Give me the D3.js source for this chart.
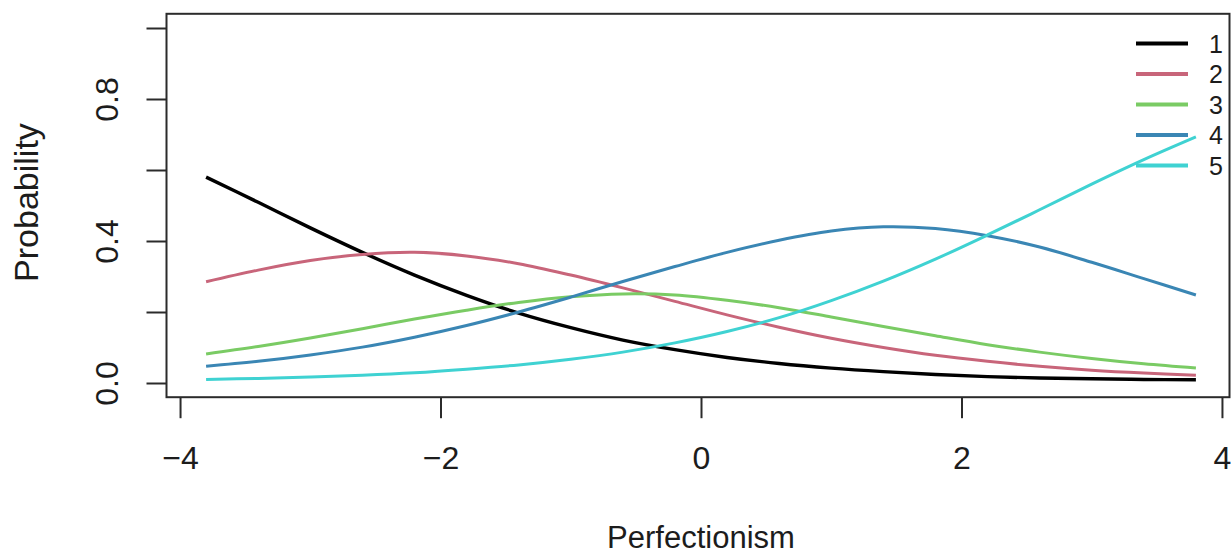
<!DOCTYPE html>
<html>
<head>
<meta charset="utf-8">
<script src="https://cdn.jsdelivr.net/npm/d3@7"></script>
<style>
  html, body { margin: 0; padding: 0; background: #fff; }
  svg { display: block; }
  text { font-family: "Liberation Sans", Arial, Helvetica, sans-serif; fill: #1c1c1c; }
</style>
</head>
<body>
<svg id="chart" width="1232" height="556"></svg>
<script>
// Category response curves over the latent trait
const theta = [-3.8, -3.4, -3.0, -2.6, -2.2, -1.8, -1.4, -1.0, -0.6, -0.2,
               0.2, 0.6, 1.0, 1.4, 1.8, 2.2, 2.6, 3.0, 3.4, 3.8];
const cat1 = [0.580, 0.509, 0.437, 0.368, 0.304, 0.247, 0.197, 0.156, 0.121, 0.094,
              0.072, 0.055, 0.042, 0.032, 0.024, 0.018, 0.014, 0.012, 0.010, 0.009];
const cat2 = [0.285, 0.318, 0.345, 0.362, 0.368, 0.358, 0.336, 0.304, 0.268, 0.230,
              0.192, 0.157, 0.126, 0.100, 0.078, 0.061, 0.047, 0.036, 0.028, 0.022];
const cat3 = [0.082, 0.103, 0.127, 0.153, 0.180, 0.205, 0.227, 0.243, 0.251, 0.248,
              0.233, 0.212, 0.186, 0.159, 0.133, 0.108, 0.087, 0.069, 0.054, 0.042];
const cat4 = [0.047, 0.061, 0.079, 0.101, 0.129, 0.162, 0.200, 0.242, 0.286, 0.328,
              0.368, 0.402, 0.428, 0.440, 0.435, 0.415, 0.383, 0.340, 0.294, 0.248];
const cat5 = [0.010, 0.013, 0.017, 0.022, 0.029, 0.039, 0.051, 0.067, 0.087, 0.113,
              0.145, 0.184, 0.232, 0.287, 0.349, 0.417, 0.488, 0.560, 0.629, 0.693];

const categories = ["1", "2", "3", "4", "5"];
const seriesValues = [cat1, cat2, cat3, cat4, cat5];
const colors = ["#000000", "#c8657a", "#7acb64", "#3a86b4", "#3fd2d2"];

const xTicks = [-4, -2, 0, 2, 4];
const xTickLabels = ["\u22124", "\u22122", "0", "2", "4"];
const yTicks = [0, 0.2, 0.4, 0.6, 0.8, 1.0];
const yTickLabels = ["0.0", "", "0.4", "", "0.8", ""];

const xTitle = "Perfectionism";
const yTitle = "Probability";

const svg = d3.select("#chart");

// scales: data range padded by 4% on each side
const x = d3.scaleLinear().domain([-4.104, 4.104]).range([166.5, 1235.5]);
const y = d3.scaleLinear().domain([-0.04, 1.04]).range([397.2, 13.8]);

const frameRight = 1229.5;

// plot frame
svg.append("rect")
  .attr("x", x.range()[0]).attr("y", y.range()[1])
  .attr("width", frameRight - x.range()[0])
  .attr("height", y.range()[0] - y.range()[1])
  .attr("fill", "none").attr("stroke", "#2b2b2b").attr("stroke-width", 2);

// x axis (offset below the frame)
const xAxis = svg.append("g")
  .attr("transform", `translate(0,${y.range()[0]})`)
  .call(d3.axisBottom(x).tickValues(xTicks).tickSize(21).tickFormat((d, i) => xTickLabels[i]));
xAxis.select(".domain").remove();
xAxis.selectAll(".tick line").attr("stroke", "#2b2b2b").attr("stroke-width", 2);
xAxis.selectAll(".tick text")
  .attr("y", 0).attr("dy", 0)
  .attr("transform", "translate(0,72)")
  .style("font-size", "32px").attr("fill", "#1c1c1c")
  .style("font-family", "'Liberation Sans', Arial, sans-serif");

// y axis
const yAxis = svg.append("g")
  .attr("transform", `translate(${x.range()[0]},0)`)
  .call(d3.axisLeft(y).tickValues(yTicks).tickSize(20).tickFormat((d, i) => yTickLabels[i]));
yAxis.select(".domain").remove();
yAxis.selectAll(".tick line").attr("stroke", "#2b2b2b").attr("stroke-width", 2);
yAxis.selectAll(".tick text")
  .attr("x", 0).attr("dy", 0)
  .attr("text-anchor", "middle")
  .attr("transform", "translate(-49,0) rotate(-90)")
  .style("font-size", "32px").attr("fill", "#1c1c1c")
  .style("font-family", "'Liberation Sans', Arial, sans-serif");

// axis titles
svg.append("text")
  .attr("x", (x.range()[0] + x.range()[1]) / 2).attr("y", 548)
  .attr("text-anchor", "middle").style("font-size", "31px")
  .text(xTitle);
svg.append("text")
  .attr("transform", `translate(38,${(y.range()[0] + y.range()[1]) / 2 - 3}) rotate(-90)`)
  .attr("text-anchor", "middle").style("font-size", "34px")
  .text(yTitle);

// curves
const line = d3.line()
  .x((d, i) => x(theta[i]))
  .y(d => y(d))
  .curve(d3.curveCatmullRom.alpha(0.5));

svg.append("g").selectAll("path")
  .data(seriesValues)
  .join("path")
  .attr("d", d => line(d))
  .attr("fill", "none")
  .attr("stroke", (d, i) => colors[i])
  .attr("stroke-width", (d, i) => i === 0 ? 3.4 : 3)
  .attr("stroke-linejoin", "round");

// legend
const legend = svg.append("g");
const legY = d3.scaleLinear().domain([0, 1]).range([43.5, 74]);
categories.forEach((c, i) => {
  legend.append("line")
    .attr("x1", 1136).attr("x2", 1188)
    .attr("y1", legY(i)).attr("y2", legY(i))
    .attr("stroke", colors[i]).attr("stroke-width", 4);
  legend.append("text")
    .attr("x", 1209).attr("y", legY(i) + 9)
    .style("font-size", "25px")
    .text(c);
});
</script>
</body>
</html>
